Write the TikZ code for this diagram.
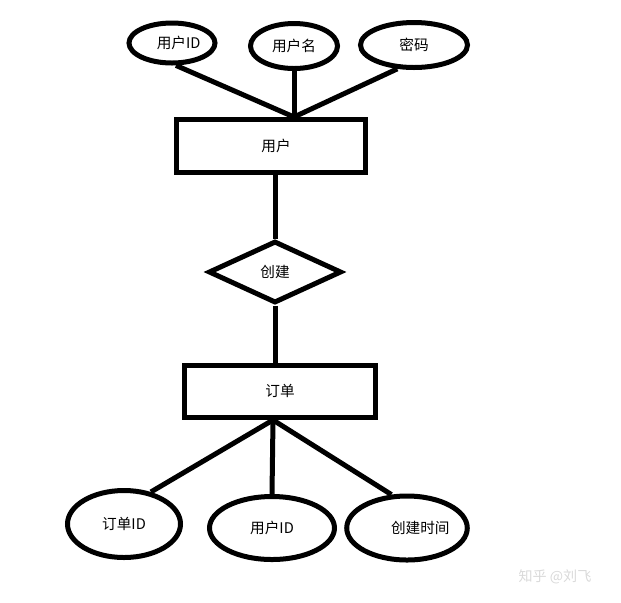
\documentclass[tikz,border=0pt]{standalone}
\usepackage{fontspec}
\newfontfamily\cjk{Noto Sans CJK SC}
\usetikzlibrary{shapes.geometric}

\begin{document}
\begin{tikzpicture}[
        x=0.03cm, y=-0.03cm,
        every node/.style={font=\cjk\fontsize{12.5pt}{14pt}\selectfont, inner sep=0pt},
        entity/.style={draw, line width=0.15cm, rectangle},
        attr/.style={draw, line width=0.15cm, ellipse},
        relation/.style={draw, line width=0.15cm, diamond},
        line/.style={line width=0.15cm}
    ]

    \useasboundingbox (0,0) rectangle (621,602);

    % Attributes of user
    \node[attr, minimum width=2.58cm, minimum height=1.2cm] (uid) at (172,43) {\hspace{0.4cm}用户ID};
    \node[attr, minimum width=2.61cm, minimum height=1.35cm] (uname) at (294,46) {用户名};
    \node[attr, minimum width=3.21cm, minimum height=1.35cm] (pwd) at (414,45) {密码};

    % User entity
    \node[entity, minimum width=5.64cm, minimum height=1.59cm] (user) at (271,146) {\hspace{0.3cm}用户};
    \coordinate (ujoin) at (294,117);

    % Relation
    \node[relation, minimum width=3.99cm, minimum height=1.86cm] (create) at (275,272) {创建};

    % Order entity
    \node[entity, minimum width=5.7cm, minimum height=1.56cm] (order) at (280,391) {订单\hspace{0.5cm}};
    \coordinate (ojoin) at (273,420);

    % Attributes of order
    \node[attr, minimum width=3.39cm, minimum height=2.01cm] (oid) at (124,524) {订单ID};
    \node[attr, minimum width=3.75cm, minimum height=1.89cm] (ouid) at (272,528) {用户ID};
    \node[attr, minimum width=3.45cm, minimum height=1.92cm] (ctime) at (407,528) {\hspace{0.8cm}创建时间};

    % Watermark
    \node[text=gray!30, font=\cjk\fontsize{12pt}{14pt}\selectfont] (zhihu) at (555,577) {知乎 @刘飞};

    % Connectors
    \draw[line] (uid.-80) -- (ujoin);
    \draw[line] (uname.south) -- (ujoin);
    \draw[line] (pwd.-125) -- (ujoin);
    \draw[line] (create.north |- user.south) -- (create.north);
    \draw[line] (create.south) -- (create.south |- order.north);
    \draw[line] (ojoin) -- (oid.50);
    \draw[line] (ojoin) -- (ouid.north);
    \draw[line] (ojoin) -- (ctime.115);

\end{tikzpicture}
\end{document}
